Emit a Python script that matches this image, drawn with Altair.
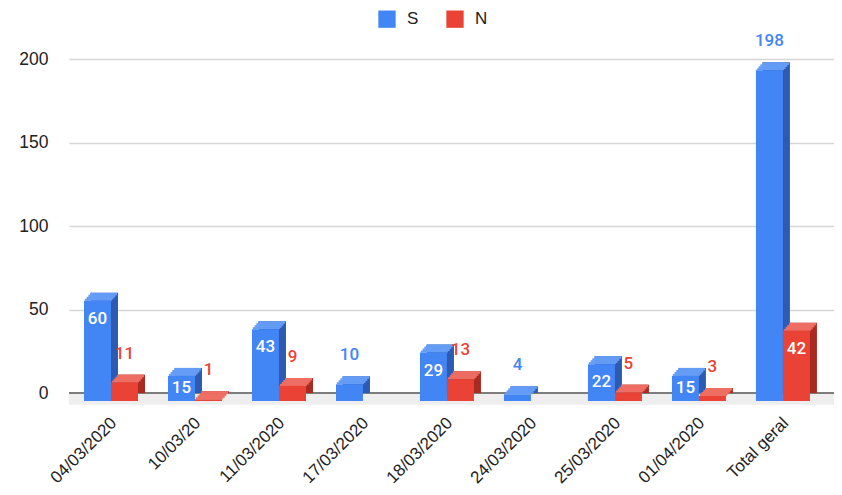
import altair as alt
import pandas as pd

# ---- data ----
categories = ["04/03/2020", "10/03/20", "11/03/2020", "17/03/2020", "18/03/2020",
              "24/03/2020", "25/03/2020", "01/04/2020", "Total geral"]
s_values = [60, 15, 43, 10, 29, 4, 22, 15, 198]
n_values = [11, 1, 9, None, 13, None, 5, 3, 42]
series_names = ["S", "N"]
y_ticks = [0, 50, 100, 150, 200]

rows = []
for cat, s, n in zip(categories, s_values, n_values):
    for name, v in (("S", s), ("N", n)):
        if v is not None:
            rows.append({"category": cat, "series": name, "value": v})
df = pd.DataFrame(rows)

# ---- styling ----
W, H = 765, 334
FRONT = {"S": "#4285F4", "N": "#EA4335"}
TOP = {"S": "#659df6", "N": "#ef6e63"}
SIDE = {"S": "#2c5bb1", "N": "#a92a20"}
SHIFT = {"S": -13.5, "N": 13.5}
BAR_W = 27
DEPTH_X = 7
DEPTH_Y = 8
AXIS_FONT = "Liberation Sans"
VALUE_FONT = "Roboto"

y_scale = alt.Scale(domain=[0, 200], nice=False, zero=True)
x_axis = alt.Axis(labelAngle=-45, labelAlign="right", labelBaseline="middle",
                  labelPadding=27, labelOffset=3, ticks=False, domain=False,
                  grid=False, labelFontSize=17, labelFont=AXIS_FONT,
                  labelColor="#222222", title=None, labelOverlap=False)
y_axis = alt.Axis(values=y_ticks, grid=True, gridColor="#d6d6d6", gridWidth=1.5,
                  domain=False, ticks=False, labelPadding=21, labelFontSize=17.5,
                  labelFont=AXIS_FONT, labelColor="#222222", title=None)

x_enc = alt.X("category:N", sort=categories,
              scale=alt.Scale(paddingInner=0, paddingOuter=0.054, align=0),
              axis=x_axis)
y_enc = alt.Y("value:Q", scale=y_scale, axis=y_axis)

color_enc = alt.Color(
    "series:N",
    scale=alt.Scale(domain=series_names, range=[FRONT["S"], FRONT["N"]]),
    legend=alt.Legend(orient="none", legendX=309, legendY=-49,
                      direction="horizontal", symbolType="square",
                      symbolSize=300, symbolStrokeWidth=0, symbolOpacity=1,
                      labelFontSize=17, labelFont=AXIS_FONT, labelColor="#222222",
                      labelOffset=11, columnPadding=27, title=None),
)

base = alt.Chart(df).transform_calculate(
    inside="datum.value >= 15 && datum.value < 150",
    anchor="max(datum.value, 18.6)",
)

layers = []

# floor of the 3D chart
floor = alt.Chart(pd.DataFrame({"f": [0]})).mark_rect(color="#eeeeee").encode(
    x=alt.value(0), x2=alt.value(W),
    y=alt.Y(datum=0, scale=y_scale, axis=y_axis), y2=alt.datum(-7),
)
layers.append(floor)

baseline = alt.Chart(pd.DataFrame({"f": [0]})).mark_rule(color="#555555", strokeWidth=1.3).encode(
    x=alt.value(0), x2=alt.value(W), y=alt.Y(datum=0, scale=y_scale, axis=y_axis),
)
layers.append(baseline)

for s in series_names:
    sb = base.transform_filter(f"datum.series == '{s}'")
    # side (back) face
    layers.append(
        sb.mark_bar(width=BAR_W, xOffset=SHIFT[s] + DEPTH_X, color=SIDE[s]).encode(
            x=x_enc, y=y_enc, y2=alt.datum(0))
    )
    # top face as thin strips (staircase parallelogram)
    for k in range(4):
        frac = (2 * k + 1) / 8
        layers.append(
            sb.mark_bar(width=BAR_W, xOffset=SHIFT[s] + DEPTH_X * (1 - frac),
                        yOffset=2 * k, y2Offset=min(2 * k + 2.6, DEPTH_Y),
                        color=TOP[s]).encode(
                x=x_enc, y=y_enc, y2=alt.Y2("value:Q"))
        )
    # front face
    layers.append(
        sb.mark_bar(width=BAR_W, xOffset=SHIFT[s], yOffset=DEPTH_Y, y2Offset=DEPTH_Y).encode(
            x=x_enc, y=y_enc, y2=alt.datum(0), color=color_enc)
    )

for s in series_names:
    outside = base.transform_filter(f"datum.series == '{s}' && !datum.inside")
    inside = base.transform_filter(f"datum.series == '{s}' && datum.inside")
    layers.append(
        outside.mark_text(xOffset=SHIFT[s], yOffset=-21, color=FRONT[s], font=VALUE_FONT,
                          fontSize=17, fontWeight=500, baseline="middle", align="center").encode(
            x=x_enc, y=y_enc, text="value:Q")
    )
    layers.append(
        inside.mark_text(xOffset=SHIFT[s], yOffset=26, color="white", font=VALUE_FONT,
                         fontSize=17, fontWeight=500, baseline="middle", align="center").encode(
            x=x_enc, y=alt.Y("anchor:Q", scale=y_scale, axis=y_axis), text="value:Q")
    )

chart = alt.layer(*layers).properties(
    width=W, height=H,
    autosize=alt.AutoSizeParams(type="none"),
    padding={"left": 61, "top": 51, "right": 0, "bottom": 100},
    background="white",
).configure_view(stroke=None)

chart.save("out.html", embed_options={"renderer": "svg", "actions": False})
